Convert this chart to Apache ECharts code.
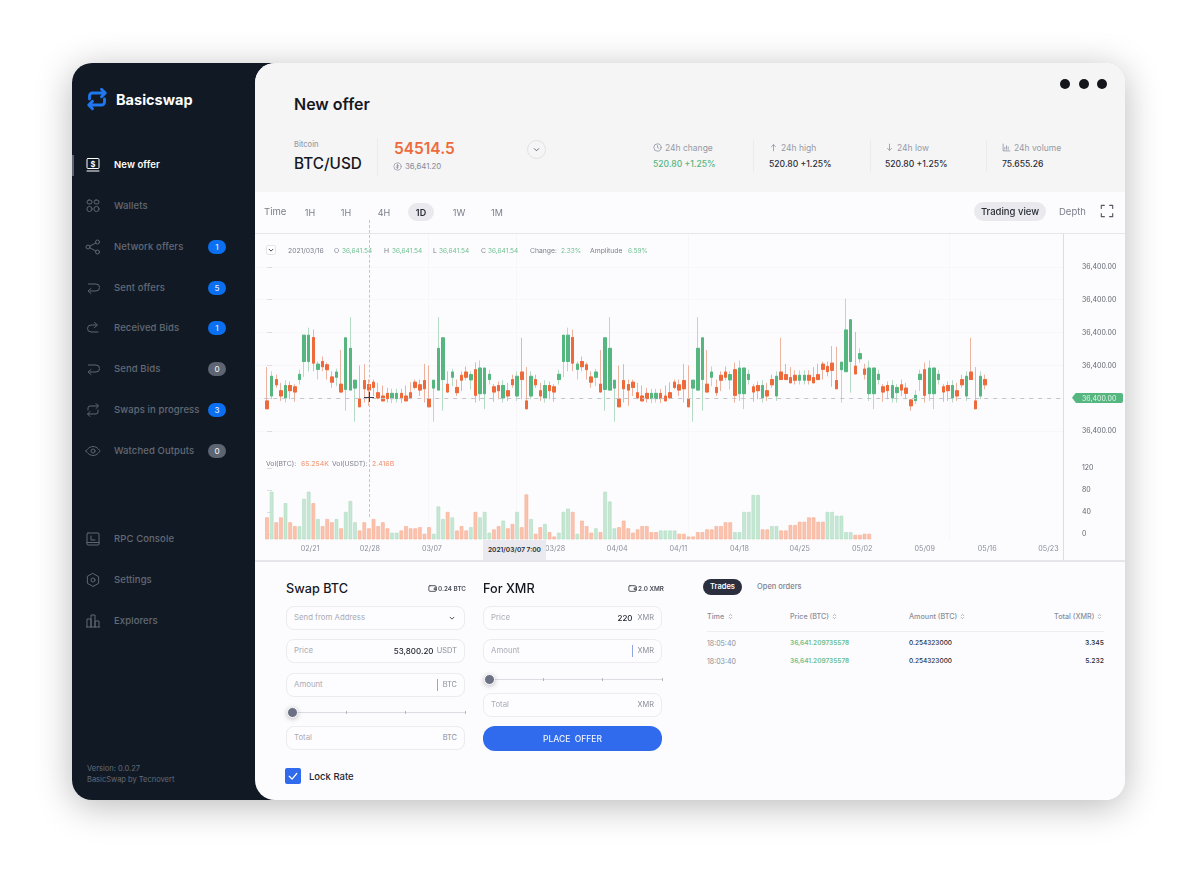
<!DOCTYPE html>
<html>
<head>
<meta charset="utf-8">
<title>Basicswap - New offer</title>
<script src="https://cdn.jsdelivr.net/npm/echarts@6/dist/echarts.min.js"></script>
<style>
html, body { margin: 0; width: 1200px; height: 870px; background: #fff; overflow: hidden; font-family: Inter, "Noto Sans", sans-serif; color: #1a1d26; }
.box { position: absolute; box-sizing: border-box; }
.t { position: absolute; transform: translateY(-50%); white-space: nowrap; line-height: 1; }
.card { left: 72px; top: 63px; width: 1053px; height: 737px; border-radius: 20px; box-shadow: 0 6px 36px rgba(0,0,0,.28); }
.side { left: 72px; top: 63px; width: 240px; height: 737px; background: #111a24; border-radius: 20px; }
.main { left: 255px; top: 63px; width: 870px; height: 737px; background: #fcfcfe; border-radius: 20px; overflow: hidden; }
.head { left: 0; top: 0; width: 870px; height: 129px; background: #f5f5f6; }
.field { border: 1px solid #ebebf0; border-radius: 8px; height: 24px; background: #fdfdff; }
#chart { position: absolute; left: 255px; top: 200px; width: 870px; height: 360px; }
svg { position: absolute; fill: none; stroke-linecap: round; stroke-linejoin: round; }
</style>
</head>
<body>
<div class="box card"></div>
<div class="box side"></div>
<div class="box main"><div class="box head"></div></div>
<div class="box" style="left:255px;top:233px;width:870px;height:1px;background:#e6e6ea"></div>
<div class="box" style="left:255px;top:560px;width:870px;height:2px;background:#e6e6ea"></div>
<div class="box" style="left:1063px;top:234px;width:1px;height:326px;background:#dcdce2"></div>
<div id="chart"></div>
<div id="ui"></div>
<script>
// candle values: offset from the current price line, 100 = one price tick
const opens = [-8,7,57,23,1,39,35,57,112,112, 185,88,112,102,65,64,43,27,25,31, -2,54,42,49,17,7,15,-1,-1,15, 7,17,49,41,54,-2,31,25,57,43,
  64,33,70,80,56,87,14,14,57,35, 39,1,23,57,7,80,-8,7,57,23, 1,39,35,57,112,112,185,88,112,102, 65,64,43,27,25,31,-2,54,42,49,
  17,7,15,-1,-1,15,7,17,49,41, 54,-2,31,25,57,43,64,33,70,80, 56,87,14,14,57,35,39,1,23,57, 7,80,72,63,70,55,55,70,63,72,
  104,97,107,54,87,81,112,98,120,89, 14,14,57,35,39,1,17,41,31,-5, -7,57,87,14,14,57,35,39,1,23, 57,7,80,-8,7,57];
const closes = [-32,67,41,7,39,23,19,73,192,192, 107,104,96,87,49,80,19,184,152,55, -26,29,25,33,1,-8,-1,15,15,-1, -8,1,33,25,29,-26,55,152,184,19,
  80,17,55,64,72,9,92,92,73,19, 23,39,7,41,67,57,-32,67,41,7, 39,23,19,73,192,192,107,104,96,87, 49,80,19,184,152,55,-26,29,25,33,
  1,-8,-1,15,15,-1,-8,1,33,25, 29,-26,55,152,184,19,80,17,55,64, 72,9,92,92,73,19,23,39,7,41, 67,57,57,47,55,70,70,55,47,57,
  88,81,85,29,110,208,239,74,136,73, 92,92,73,19,23,39,33,25,15,-23, 9,73,9,92,92,73,19,23,39,7, 41,67,57,-32,67,41];
const lows = [-32,-3,32,-8,-13,-3,-11,42,65,82, 82,57,82,57,32,37,19,-38,25,-71, -26,-13,-23,7,-3,-8,-13,-15,-13,-15, -8,-3,27,7,-13,-26,-71,25,-38,17,
  37,7,22,55,27,-13,-8,-33,42,-11, -3,-13,-8,32,-8,-3,-32,-3,32,-8, -13,-3,-11,42,65,82,82,57,82,57, 32,37,19,-38,25,-71,-26,-13,-23,7,
  -3,-8,-13,-15,-13,-15,-8,-3,27,7, -13,-26,-71,25,-38,19,37,7,22,55, 27,-13,-8,-33,42,-11,-3,-13,-8,32, -8,57,57,47,42,42,42,42,47,57,
  57,67,35,29,-13,81,17,74,107,57, -8,-33,42,-11,-3,-13,-13,7,-3,-38, -18,22,-13,-8,-33,42,-11,-8,-13,-8, 32,-8,57,-32,-3,27];
const highs = [95,82,72,47,55,51,43,87,192,215, 209,112,127,109,82,90,147,184,247,55, 100,104,57,57,47,39,32,29,29,29, 39,49,57,57,105,100,55,247,184,82,
  90,57,82,97,82,109,115,92,87,43, 51,55,47,72,82,184,95,82,72,47, 55,51,43,87,192,215,209,112,127,109, 82,90,147,184,247,55,100,104,57,57,
  47,39,32,29,29,29,39,49,57,57, 105,100,55,247,184,147,97,57,82,97, 82,109,115,92,87,43,51,55,47,72, 82,184,105,95,85,85,85,85,95,105,
  112,112,159,157,110,303,239,202,152,105, 115,92,87,43,51,55,43,57,47,-3, 25,87,109,115,92,87,43,51,55,47, 72,82,184,95,82,72];

const volumes = [40,87,31,40,66,31,24,24,74,87, 66,37,24,37,31,37,20,50,70,31, 16,31,20,37,24,31,20,12,12,16, 24,20,20,22,10,22,10,60,37,50,
  40,16,24,16,22,50,40,50,12,18, 24,34,20,28,50,22,82,37,10,22, 28,13,5,12,50,56,50,10,34,24, 12,20,13,87,69,20,22,34,20,12,
  18,24,24,13,13,16,16,16,16,10, 10,5,5,13,13,18,18,24,24,31, 31,13,13,50,50,81,81,18,18,24, 24,16,16,26,26,32,32,40,40,32,
  32,50,50,43,43,13,13,8,8,10,10];
// g = green bar, o = orange bar
const volumeSides = 'ogoogooggg' + 'ogooogoggg' + 'oooooooggo' + 'oooooogggo' + 'gooogogggo' + 'ogoogoogoo' + 'googggogoo' + 'ogogggoooo' +
  'oooooggggo' + 'oooooooooo' + 'oggggggoog' + 'gooooooooo' + 'oggggggoooo';

const priceTicks = [-100, 100, 200, 300, 400];
const priceTickLabels = ['36,400.00', '36,400.00', '36,400.00', '36,400.00', '36,400.00'];
const volumeTicks = [0, 40, 80, 120];
const dateTicks = [9.3, 22.2, 35.6, 62.2, 75.6, 88.8, 102, 115, 128.5, 142, 155.5, 168.7];
const dateTickLabels = ['02/21', '02/28', '03/07', '03/28', '04/04', '04/11', '04/18', '04/25', '05/02', '05/09', '05/16', '05/23'];
const guideTicks = [34.8, 53.8, 90.9, 147.2];

const UP = '#55b680', DOWN = '#ee6a3a';

const candleRows = opens.map((o, i) => [i, o, closes[i], lows[i], highs[i]]);
const bodyRows = opens.map((o, i) => [i, o, closes[i], Math.min(o, closes[i]), Math.max(o, closes[i])]);
const volumeRows = volumes.map((v, i) => {
  const up = volumeSides[i] === 'g';
  return { value: [i, v], itemStyle: { color: up ? '#c5e7d3' : '#fbc3ae', borderColor: up ? '#aedcc1' : '#f5ab91', borderWidth: 0.6 } };
});

const xMin = -2.59, xMax = 171.85;
const faint = { show: true, lineStyle: { color: '#f7f7fa', width: 1 } };
const tickFont = { color: '#8a8e9b', fontSize: 7.2, fontFamily: 'Inter' };
const sideFont = { color: '#62666f', fontSize: 7, fontFamily: 'Inter', margin: 19, align: 'left' };

const chart = echarts.init(document.getElementById('chart'));
chart.setOption({
  animation: false,
  grid: [
    { left: 0, width: 808, top: 34, height: 230 },
    { left: 0, width: 808, top: 255, height: 84.3 }
  ],
  xAxis: [
    { type: 'value', gridIndex: 0, min: xMin, max: xMax, axisLine: { show: false }, axisLabel: { show: false },
      axisTick: { show: false, customValues: guideTicks }, splitLine: faint },
    { type: 'value', gridIndex: 1, min: xMin, max: xMax, axisLine: { show: false },
      axisTick: { show: false, customValues: guideTicks }, splitLine: faint,
      axisLabel: { ...tickFont, margin: 6, customValues: dateTicks,
        formatter: v => dateTickLabels[dateTicks.indexOf(v)] || '' } }
  ],
  yAxis: [
    { type: 'value', gridIndex: 0, position: 'right', min: -200, max: 500, interval: 100,
      axisLine: { show: false }, splitLine: faint,
      axisTick: { show: true, length: 5, lineStyle: { color: '#dcdce2' }, customValues: [-100, 0, 100, 200, 300, 400] },
      axisLabel: { ...sideFont, customValues: priceTicks,
        formatter: v => priceTickLabels[priceTicks.indexOf(v)] || '' } },
    { type: 'value', gridIndex: 1, position: 'right', min: -10, max: 144.2,
      axisLine: { show: false }, splitLine: { show: false },
      axisTick: { show: true, length: 5, lineStyle: { color: '#dcdce2' }, customValues: volumeTicks },
      axisLabel: { ...sideFont, customValues: volumeTicks } },
    { type: 'value', gridIndex: 1, show: false, min: 0, max: 154.2 }
  ],
  series: [
    { // wicks, lighter than the bodies
      type: 'candlestick', xAxisIndex: 0, yAxisIndex: 0, data: candleRows, barWidth: 3, silent: true,
      itemStyle: { color: '#b4dcc5', color0: '#ecb49e', borderColor: '#b4dcc5', borderColor0: '#ecb49e', borderWidth: 1 },
      markLine: { silent: true, symbol: 'none', label: { show: false }, animation: false,
        lineStyle: { color: '#c4c5cc', type: [4, 5], width: 1 },
        data: [[{ coord: [-0.6, 0] }, { coord: [xMax, 0] }]] }
    },
    { // bodies
      type: 'candlestick', xAxisIndex: 0, yAxisIndex: 0, data: bodyRows, barWidth: 3, silent: true,
      itemStyle: { color: UP, color0: DOWN, borderColor: UP, borderColor0: DOWN, borderWidth: 1 }
    },
    { type: 'bar', xAxisIndex: 1, yAxisIndex: 2, data: volumeRows, barWidth: 3.6, silent: true }
  ]
});

// everything around the chart is plain html
const ui = document.getElementById('ui');
function txt(x, y, s, css) {
  const d = document.createElement('div');
  d.className = 't';
  d.style.cssText = 'left:' + x + 'px;top:' + y + 'px;' + (css || '');
  d.textContent = s;
  ui.appendChild(d);
  return d;
}
function box(x, y, w, h, css, cls) {
  const d = document.createElement('div');
  d.className = 'box ' + (cls || '');
  d.style.cssText = 'left:' + x + 'px;top:' + y + 'px;width:' + w + 'px;height:' + h + 'px;' + (css || '');
  ui.appendChild(d);
  return d;
}
function icon(x, y, size, color, sw, body) {
  ui.insertAdjacentHTML('beforeend', '<svg style="left:' + x + 'px;top:' + y + 'px" width="' + size + '" height="' + size +
    '" viewBox="0 0 16 16" stroke="' + color + '" stroke-width="' + sw + '">' + body + '</svg>');
}

// sidebar
const SWAP = '<path d="M3 8V6a2 2 0 0 1 2-2h8M11 1.5 13.5 4 11 6.500M13 8v2a2 2 0 0 1-2 2H3M5 9.500 2.500 12 5 14.500"/>';
const BACK = '<path d="M5 13h6a3.500 3.500 0 0 0 0-7H3.500M6 10.500 3 13l3 2.500" transform="translate(0 -2)"/>';
const FWD = '<path d="M11 5H6a3.500 3.500 0 0 0 0 7h7M9.500 2.500 12.500 5l-3 2.500"/>';
const navIcons = {
  offer: '<rect x="2" y="1.500" width="12" height="10" rx="1"/><path d="M2 14h12"/><text x="8" y="9.700" font-size="7.500" font-weight="700" fill="#fff" stroke="none" text-anchor="middle">$</text>',
  wallets: '<rect x="2" y="2" width="5" height="4" rx="2"/><rect x="9" y="2" width="5" height="4" rx="2"/><circle cx="4.500" cy="11" r="2.600"/><circle cx="11.500" cy="11" r="2.600"/>',
  share: '<circle cx="3" cy="8" r="2"/><circle cx="12.500" cy="3" r="2"/><circle cx="12.500" cy="13" r="2"/><path d="M5 7l5.800-3M5 9l5.800 3"/>',
  back: BACK, fwd: FWD, swap: SWAP,
  eye: '<path d="M1 8s2.600-4.500 7-4.500S15 8 15 8s-2.600 4.500-7 4.500S1 8 1 8z"/><circle cx="8" cy="8" r="2"/>',
  rpc: '<rect x="2" y="2" width="12" height="12" rx="1"/><path d="M2 11.500h12M6 5v4h4"/>',
  gear: '<path d="M8 1.500 13.600 4.700v6.600L8 14.500l-5.600-3.200V4.700z"/><circle cx="8" cy="8" r="2"/>',
  bars: '<path d="M2 14V6h4v8M6 14V2h4v12M10 14V8h4v6M1.500 14h13"/>'
};
const navItems = [
  ['New offer', 165, 'offer', null],
  ['Wallets', 206, 'wallets', null],
  ['Network offers', 247, 'share', 1],
  ['Sent offers', 287.5, 'back', 5],
  ['Received Bids', 328, 'fwd', 1],
  ['Send Bids', 369, 'back', 0],
  ['Swaps in progress', 410, 'swap', 3],
  ['Watched Outputs', 451, 'eye', 0],
  ['RPC Console', 539, 'rpc', null],
  ['Settings', 580, 'gear', null],
  ['Explorers', 621, 'bars', null]
];
icon(85, 87, 24, '#1f78f0', 1.9, SWAP);
txt(116, 99.5, 'Basicswap', 'font-size:14.5px;font-weight:700;color:#fff');
box(72, 155, 2, 21, 'background:#5c6370');
navItems.forEach(([name, y, ic, badge], i) => {
  const on = i === 0;
  icon(85, y - 8, 16, on ? '#fff' : '#5f6672', 1, navIcons[ic]);
  txt(114, y, name, 'font-size:9.5px;letter-spacing:.1px;font-weight:' + (on ? 600 : 500) + ';color:' + (on ? '#fff' : '#636975'));
  if (badge !== null) {
    box(208, y - 7, 18, 14, 'border-radius:7px;background:' + (badge ? '#0a6ff0' : '#5d6472'));
    txt(208, y, String(badge), 'width:18px;text-align:center;font-size:8px;font-weight:500;color:#e8ecf4');
  }
});
txt(87, 769, 'Version: 0.0.27', 'font-size:7.5px;color:#646a76');
txt(87, 780, 'BasicSwap by Tecnovert', 'font-size:7.5px;color:#646a76');

// page header
txt(294, 104, 'New offer', 'font-size:16px;font-weight:600;color:#15181f');
[1065, 1084, 1102].forEach(x => box(x - 5, 79, 10, 10, 'border-radius:50%;background:#14161c'));
txt(294, 144.5, 'Bitcoin', 'font-size:7.5px;font-weight:500;color:#9a9ea8');
txt(294, 164, 'BTC/USD', 'font-size:15.3px;font-weight:500;color:#15181f');
box(377, 138, 1, 38, 'background:#ececef');
txt(394, 148.5, '54514.5', 'font-size:15.5px;font-weight:600;color:#ee6a3a');
icon(393, 161.5, 9, '#8d919c', 1.2, '<circle cx="8" cy="8" r="6.5"/><path d="M8 4v8M10 6H7v2h2v2H6"/>');
txt(405, 166.5, '36,641.20', 'font-size:7.8px;color:#878b96');
box(527, 140, 19, 19, 'border-radius:50%;border:1px solid #e2e2e6');
icon(533, 146, 7, '#555a66', 2, '<path d="M3 6l5 5 5-5"/>');
const stats = [
  [653, '24h change', '520.80 +1.25%', UP, '<circle cx="8" cy="8" r="6.5"/><path d="M8 4.5V8l2.5 1.5"/>'],
  [769, '24h high', '520.80 +1.25%', '#2a2d36', '<path d="M8 14V3M4.5 6.5 8 3l3.5 3.5"/>'],
  [885, '24h low', '520.80 +1.25%', '#2a2d36', '<path d="M8 2v11M4.5 9.5 8 13l3.5-3.5"/>'],
  [1002, '24h volume', '75.655.26', '#2a2d36', '<path d="M2 2v12h12M5 11V8M8 11V5M11 11V7"/>']
];
stats.forEach(([x, head, val, col, ic]) => {
  icon(x, 142.5, 9, '#85899a', 1.3, ic);
  txt(x + 12, 147.5, head, 'font-size:8.5px;color:#969aa5');
  txt(x, 164, val, 'font-size:8.6px;font-weight:500;color:' + col);
});
[753, 870, 986].forEach(x => box(x, 140, 1, 32, 'background:#ececef'));

// time bar
txt(264, 212, 'Time', 'font-size:9.5px;color:#7a7e8a');
box(408, 203, 26, 18, 'border-radius:9px;background:#e9e9ee');
[['1H', 310], ['1H', 346], ['4H', 384], ['1D', 421], ['1W', 459], ['1M', 497]].forEach(([s, x]) => {
  txt(x - 15, 212, s, 'width:30px;text-align:center;font-size:9px;font-weight:' + (s === '1D' ? 600 : 400) + ';color:' + (s === '1D' ? '#2a2d36' : '#7a7e8a'));
});
box(974, 202, 72, 19, 'border-radius:10px;background:#e9e9ee');
txt(974, 211.5, 'Trading view', 'width:72px;text-align:center;font-size:9.5px;font-weight:500;color:#2a2d36');
txt(1059, 211.5, 'Depth', 'font-size:9.5px;color:#7a7e8a');
icon(1100, 204, 14, '#555a66', 1.3, '<path d="M1.5 5V1.5H5M11 1.5h3.5V5M14.5 11v3.5H11M5 14.5H1.5V11"/>');

// chart legend rows
box(266, 245, 10, 10, 'border:1px solid #e4e4e8;border-radius:2px;background:#fff');
icon(268, 247, 6, '#333845', 2.4, '<path d="M3 6l5 5 5-5"/>');
const grey = 'font-size:6.8px;color:#7b7f8a;', green = 'font-size:6.5px;color:#6fc092;', salmon = 'font-size:6.8px;font-weight:500;color:#f2a284;';
txt(288, 250.5, '2021/03/16', grey);
[[334, 'O', 342, '36,641.54'], [384, 'H', 392, '36,641.54'], [433, 'L', 439, '36,641.54'], [481, 'C', 488, '36,641.54'],
 [530, 'Change:', 561, '2.33%'], [590, 'Amplitude', 628, '6.59%']].forEach(([a, k, b, v]) => {
  txt(a, 250.5, k, grey);
  txt(b, 250.5, v, green);
});
txt(266, 463.5, 'Vol(BTC):', grey);
txt(301, 463.5, '65.254K', salmon);
txt(332, 463.5, 'Vol(USDT):', grey);
txt(372, 463.5, '2.416B', salmon);

// crosshair
box(369, 220, 0, 297, 'border-left:1px dashed #c4c5cc');
box(364, 397, 10, 1, 'background:#3a3d48');
box(369, 392, 1, 10, 'background:#3a3d48');

// price tag and axis pointer label
box(1072, 392.5, 51, 10.5, 'background:#55b680;border-radius:2px;clip-path:polygon(0 50%,4px 0,100% 0,100% 100%,4px 100%)');
txt(1082, 398, '36,400.00', 'font-size:7px;color:#e6f5ec');
box(483, 540, 63, 20, 'background:#e9e9ef');
txt(483, 549.5, '2021/03/07 7:00', 'width:63px;text-align:center;font-size:6.6px;font-weight:600;color:#262932');

// order form
const fieldLabel = 'font-size:7.8px;color:#a9acb6;', fieldUnit = 'font-size:7.4px;color:#8a8e99;';
function field(x, y, w, left, value, unit, caret) {
  box(x, y, w, 24, '', 'field');
  txt(x + 8, y + 12, left, fieldLabel);
  if (unit) { const u = txt(0, y + 12, unit, fieldUnit); u.style.left = 'auto'; u.style.right = (1200 - x - w + 8) + 'px'; }
  const gap = unit === 'USDT' ? 31.5 : 29.5;
  if (value) { const v = txt(0, y + 12, value, 'font-size:8px;font-weight:500;color:#23262f'); v.style.left = 'auto'; v.style.right = (1200 - x - w + gap) + 'px'; }
  if (caret) box(x + w - (unit === 'BTC' ? 28 : 30), y + 6, 1, 12, 'background:#8fa6de');
}
function slider(x, y, ticks) {
  box(x, y, 465 - 292 + 1, 1, 'background:#dcdce2');
  ticks.forEach(tx => box(tx, y - 1, 1, 3, 'background:#b5b6bf'));
  box(x - 5, y - 5, 11, 11, 'border-radius:50%;background:#6b7085;border:1px solid #fff;box-shadow:0 1px 5px rgba(0,0,0,.25)');
}
const walletIcon = '<rect x="1.5" y="3" width="13" height="10" rx="2"/><path d="M15 7h-4v3h4"/>';
txt(286, 588.5, 'Swap BTC', 'font-size:12.7px;font-weight:500;color:#15181f');
icon(428, 584, 9, '#2a2d36', 1.4, walletIcon);
txt(438, 588.5, '0.24 BTC', 'font-size:6.3px;font-weight:600;color:#4a4d58');
txt(483, 588.5, 'For XMR', 'font-size:12.7px;font-weight:500;color:#15181f');
icon(628, 584, 9, '#2a2d36', 1.4, walletIcon);
txt(638, 588.5, '2.0 XMR', 'font-size:6.3px;font-weight:600;color:#4a4d58');
field(286, 606, 179, 'Send from Address', '', '', false);
icon(449, 615, 6, '#3e424e', 2.4, '<path d="M3 6l5 5 5-5"/>');
field(286, 639, 179, 'Price', '53,800.20', 'USDT', false);
field(286, 672.5, 179, 'Amount', '', 'BTC', true);
slider(292, 711.5, [346, 405, 465]);
field(286, 726, 179, 'Total', '', 'BTC', false);
field(483, 606, 179, 'Price', '220', 'XMR', false);
field(483, 639, 179, 'Amount', '', 'XMR', true);
slider(488.5, 678.5, [543, 602, 662]);
field(483, 693, 179, 'Total', '', 'XMR', false);
box(483, 726, 179, 24.5, 'border-radius:12px;background:#2f6bec');
txt(483, 738.5, 'PLACE  OFFER', 'width:179px;text-align:center;white-space:pre;font-size:8.5px;font-weight:500;color:#eef3ff');
box(285, 768, 16, 16, 'border-radius:2px;background:#2f6bec');
icon(288, 771, 10, '#fff', 2, '<path d="M2 8.5 6.5 13 14 4"/>');
txt(309, 776.5, 'Lock Rate', 'font-size:9.5px;font-weight:500;color:#23262f');

// trades table
box(703, 579, 39, 15.5, 'border-radius:8px;background:#2a2e3d');
txt(703, 587, 'Trades', 'width:39px;text-align:center;font-size:7.5px;font-weight:600;color:#fff');
txt(757, 587, 'Open orders', 'font-size:7.5px;font-weight:500;color:#7f8390');
const sortIcon = '<path d="M5 6 8 3l3 3M5 10l3 3 3-3"/>';
const thead = 'font-size:7.2px;font-weight:500;color:#8a8e99;';
[[707, 'Time', 726.5], [790, 'Price (BTC)', 830.5], [909, 'Amount (BTC)', 958.5]].forEach(([x, s, ix]) => {
  txt(x, 616.5, s, thead);
  icon(ix, 613, 7, '#8a8e99', 1.5, sortIcon);
});
txt(1054, 616.5, 'Total (XMR)', thead);
icon(1096, 613, 7, '#8a8e99', 1.5, sortIcon);
box(707, 631, 397, 1, 'background:#eeeef2');
[[643, '18:05:40', '3.345'], [660.5, '18:03:40', '5.232']].forEach(([y, time, total]) => {
  txt(707, y, time, 'font-size:7px;color:#8a8e99');
  txt(790, y, '36,641.209735578', 'font-size:6.5px;font-weight:600;color:#6fc092');
  txt(909, y, '0.254323000', 'font-size:6.5px;font-weight:500;color:#2a2d36');
  txt(1054, y, total, 'width:50px;text-align:right;font-size:6.8px;font-weight:500;color:#2a2d36');
});
</script>
</body>
</html>
